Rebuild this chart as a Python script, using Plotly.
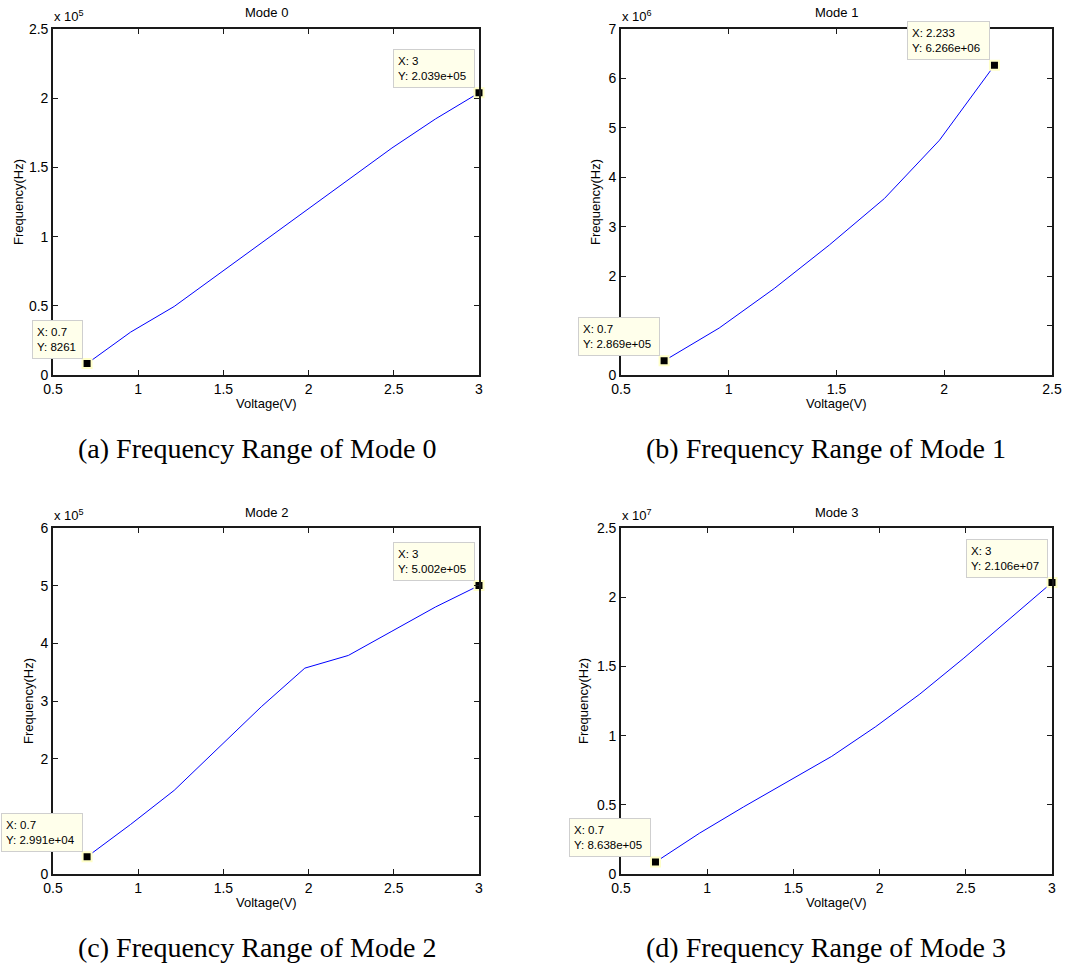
import plotly.graph_objects as go

W, H = 1073, 963

# ---- data ----
voltage = [0.7, 0.9556, 1.2111, 1.4667, 1.7222, 1.9778, 2.2333, 2.4889, 2.7444, 3.0]
mode0_freq = [8261, 31000, 49500, 72500, 95000, 118000, 141500, 164000, 185000, 203900]
mode1_voltage = [0.7, 0.9556, 1.2111, 1.4667, 1.7222, 1.9778, 2.233]
mode1_freq = [286900, 950000, 1750000, 2630000, 3570000, 4750000, 6266000]
mode2_freq = [29910, 86000, 145000, 218000, 290000, 357000, 379000, 421000, 463000, 500200]
mode3_freq = [863800, 2950000, 4850000, 6650000, 8500000, 10650000, 13000000, 15600000, 18300000, 21060000]

titles = ["Mode 0", "Mode 1", "Mode 2", "Mode 3"]
captions = ["(a) Frequency Range of Mode 0", "(b) Frequency Range of Mode 1",
            "(c) Frequency Range of Mode 2", "(d) Frequency Range of Mode 3"]
exponents = [5, 6, 5, 7]
x_ranges = [[0.5, 3], [0.5, 2.5], [0.5, 3], [0.5, 3]]
y_ranges = [[0, 2.5], [0, 7], [0, 6], [0, 2.5]]
y_tickvals = [
    [0, 0.5, 1, 1.5, 2, 2.5],
    [0, 1, 2, 3, 4, 5, 6, 7],
    [0, 1, 2, 3, 4, 5, 6],
    [0, 0.5, 1, 1.5, 2, 2.5],
]
# "1" labels in (b) and (c) are hidden under the data tip box in the original
y_ticktext = [
    ["0", "0.5", "1", "1.5", "2", "2.5"],
    ["0", "", "2", "3", "4", "5", "6", "7"],
    ["0", "", "2", "3", "4", "5", "6"],
    ["0", "0.5", "1", "1.5", "2", "2.5"],
]
tip_first = ["X: 0.7<br>Y: 8261", "X: 0.7<br>Y: 2.869e+05",
             "X: 0.7<br>Y: 2.991e+04", "X: 0.7<br>Y: 8.638e+05"]
tip_last = ["X: 3<br>Y: 2.039e+05", "X: 2.233<br>Y: 6.266e+06",
            "X: 3<br>Y: 5.002e+05", "X: 3<br>Y: 2.106e+07"]
tip_first_w = [41, 72, 72, 72]
tip_last_w = [72, 73, 72, 72]

series_x = [voltage, mode1_voltage, voltage, voltage]
series_y = [mode0_freq, mode1_freq, mode2_freq, mode3_freq]

# ---- layout in pixels ----
plot_px = [  # left, right, top, bottom
    (53, 479, 29, 375),
    (621, 1052, 29, 375),
    (53, 479, 528, 874),
    (621, 1052, 528, 874),
]
ytitle_px = [18, 595, 28, 583]
caption_y = [448, 448, 947, 947]
caption_cx = [257, 826, 257, 826]

def px(x):
    return x / W

def py(y):
    return 1 - y / H

fig = go.Figure()
layout = dict(
    template="none",
    width=W, height=H,
    margin=dict(l=0, r=0, t=0, b=0, pad=0),
    paper_bgcolor="white", plot_bgcolor="white",
    showlegend=False,
    font=dict(family="Liberation Sans, Arial, sans-serif", color="black"),
)
annotations = []
TICKFONT = dict(family="Liberation Sans, Arial, sans-serif", size=14, color="black")

for i in range(4):
    l, r, t, b = plot_px[i]
    scale = 10 ** exponents[i]
    xs = series_x[i]
    ys = [v / scale for v in series_y[i]]
    xa = "x" if i == 0 else f"x{i+1}"
    ya = "y" if i == 0 else f"y{i+1}"
    xkey = "xaxis" if i == 0 else f"xaxis{i+1}"
    ykey = "yaxis" if i == 0 else f"yaxis{i+1}"

    fig.add_trace(go.Scatter(x=xs, y=ys, mode="lines", xaxis=xa, yaxis=ya,
                             line=dict(color="#0000ff", width=1), hoverinfo="skip"))
    fig.add_trace(go.Scatter(x=[xs[0], xs[-1]], y=[ys[0], ys[-1]], mode="markers",
                             xaxis=xa, yaxis=ya, cliponaxis=False,
                             marker=dict(symbol="square", size=9, color="black",
                                         line=dict(color="#ffffc8", width=2)),
                             hoverinfo="skip"))

    axis_common = dict(showgrid=False, zeroline=False, showline=True, linecolor="#1a1a1a",
                       linewidth=1.6, mirror="ticks", ticks="inside", ticklen=5,
                       tickcolor="#1a1a1a", tickwidth=1, tickfont=TICKFONT,
                       automargin=False)
    layout[xkey] = dict(axis_common, domain=[px(l), px(r)], range=x_ranges[i],
                        dtick=0.5, tick0=0.5, anchor=ya)
    layout[ykey] = dict(axis_common, domain=[py(b), py(t)], range=y_ranges[i],
                        tickmode="array", tickvals=y_tickvals[i], ticktext=y_ticktext[i],
                        anchor=xa)

    cx = (l + r) / 2
    cy = (t + b) / 2
    # title
    annotations.append(dict(xref="paper", yref="paper", x=px(cx), y=py(t - 16),
                            text=titles[i], showarrow=False, xanchor="center", yanchor="middle",
                            font=dict(size=13, color="black")))
    # exponent label
    annotations.append(dict(xref="paper", yref="paper", x=px(l - 1), y=py(t - 3),
                            text=f"x 10<sup>{exponents[i]}</sup>", showarrow=False,
                            xanchor="left", yanchor="bottom",
                            font=dict(size=13, color="black")))
    # x title
    annotations.append(dict(xref="paper", yref="paper", x=px(cx), y=py(b + 28),
                            text="Voltage(V)", showarrow=False, xanchor="center", yanchor="middle",
                            font=dict(size=13, color="black")))
    # y title
    annotations.append(dict(xref="paper", yref="paper", x=px(ytitle_px[i]), y=py(cy),
                            text="Frequency(Hz)", showarrow=False, textangle=-90,
                            xanchor="center", yanchor="middle",
                            font=dict(size=13, color="black")))
    # caption
    annotations.append(dict(xref="paper", yref="paper", x=px(caption_cx[i]),
                            y=py(caption_y[i]),
                            text=captions[i], showarrow=False, xanchor="center", yanchor="middle",
                            font=dict(family="Liberation Serif, Times New Roman, serif",
                                      size=28, color="black")))
    # data tips
    for (tx, ty, txt, tw) in [(xs[0], ys[0], tip_first[i], tip_first_w[i]),
                              (xs[-1], ys[-1], tip_last[i], tip_last_w[i])]:
        annotations.append(dict(xref=xa, yref=ya, x=tx, y=ty, text=txt, showarrow=False,
                                xanchor="right", yanchor="bottom", xshift=-4, yshift=5,
                                align="left", valign="middle", width=tw, height=29,
                                bgcolor="#ffffeb", bordercolor="#cfcfcf",
                                borderwidth=1, borderpad=4,
                                font=dict(size=11.5, color="black")))

layout["annotations"] = annotations
fig.update_layout(**layout)
fig.write_html("out.html",
               config={"displayModeBar": False},
               post_script="document.body.style.margin='0';document.body.style.overflow='hidden';")
